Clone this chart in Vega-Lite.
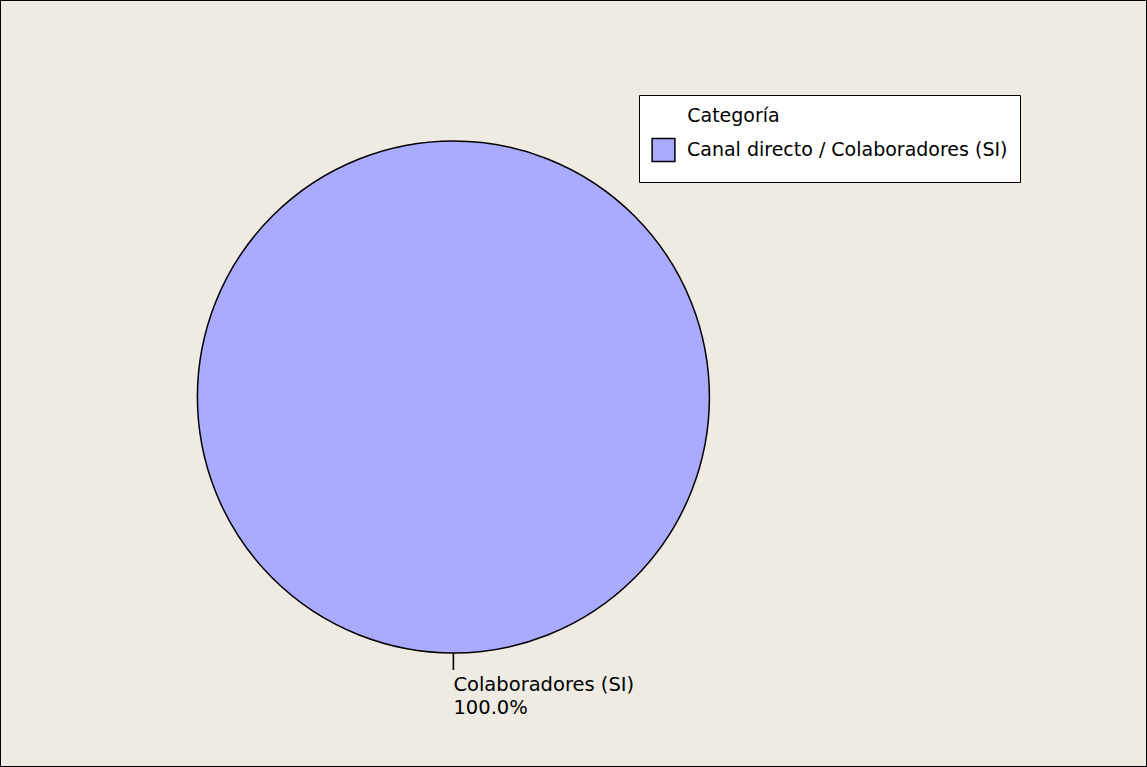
{
  "$schema": "https://vega.github.io/schema/vega-lite/v6.json",
  "width": 1147,
  "height": 767,
  "autosize": {"type": "fit", "contains": "padding"},
  "padding": 0,
  "background": "#EFEBE2",
  "config": {
    "view": {"stroke": "#000000", "strokeWidth": 2, "fill": "#EFEBE2"},
    "font": "DejaVu Sans"
  },
  "data": {
    "values": [
      {"categoria": "Canal directo / Colaboradores (SI)", "etiqueta": "Colaboradores (SI)", "valor": 100}
    ]
  },
  "transform": [
    {"joinaggregate": [{"op": "sum", "field": "valor", "as": "total"}]},
    {"calculate": "datum.etiqueta + '\\n' + format(datum.valor / datum.total, '.1%')", "as": "texto"}
  ],
  "encoding": {
    "x": {"datum": 0.3953, "type": "quantitative", "scale": {"domain": [0, 1]}, "axis": null},
    "y": {"datum": 0.5176, "type": "quantitative", "scale": {"domain": [0, 1], "reverse": true}, "axis": null}
  },
  "layer": [
    {
      "mark": {"type": "arc", "radius": 256, "stroke": "#000000", "strokeWidth": 1.5},
      "encoding": {
        "theta": {"field": "valor", "type": "quantitative", "stack": true},
        "color": {
          "field": "categoria",
          "type": "nominal",
          "scale": {"range": ["#AAAAFF"]},
          "legend": {
            "title": "\u200b\u00a0\u00a0\u00a0\u00a0\u00a0\u00a0Categoría",
            "orient": "none",
            "legendX": 639,
            "legendY": 95,
            "fillColor": "#FFFFFF",
            "strokeColor": "#000000",
            "padding": 12,
            "titleFont": "DejaVu Sans",
            "titleFontSize": 19,
            "titleFontWeight": "normal",
            "titleColor": "#000000",
            "titlePadding": 4,
            "labelFont": "DejaVu Sans",
            "labelFontSize": 19,
            "labelColor": "#000000",
            "labelLimit": 0,
            "labelOffset": 11,
            "clipHeight": 40,
            "symbolType": "square",
            "symbolSize": 520,
            "symbolStrokeColor": "#000000",
            "symbolStrokeWidth": 1.5,
            "symbolOpacity": 1
          }
        }
      }
    },
    {
      "mark": {"type": "arc", "radius": 256, "radius2": 273, "theta": 3.1386, "theta2": 3.1446, "fill": "#000000"},
      "encoding": {}
    },
    {
      "mark": {"type": "text", "radius": 279, "align": "left", "baseline": "top", "fontSize": 19.5, "lineHeight": 23, "lineBreak": "\n", "color": "#000000"},
      "encoding": {
        "theta": {"field": "valor", "type": "quantitative", "stack": true},
        "text": {"field": "texto", "type": "nominal"}
      }
    }
  ]
}
